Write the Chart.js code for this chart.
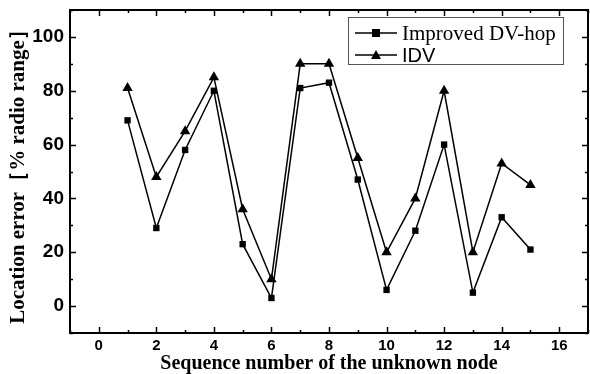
<!DOCTYPE html>
<html>
<head>
<meta charset="utf-8">
<script src="https://cdn.jsdelivr.net/npm/chart.js@4"></script>
<style>
  html, body { margin: 0; padding: 0; background: #fff; overflow: hidden; }
  canvas { display: block; }
</style>
</head>
<body>
<canvas id="chart" width="590" height="374"></canvas>
<script>
const nodes = [1, 2, 3, 4, 5, 6, 7, 8, 9, 10, 11, 12, 13, 14, 15];
const improvedDvHop = [69, 29, 58, 80, 23, 3, 81, 83, 47, 6, 28, 60, 5, 33, 21];
const idv = [81, 48, 65, 85, 36, 10, 90, 90, 55, 20, 40, 80, 20, 53, 45];
const seriesNames = ['Improved DV-hop', 'IDV'];
const xTicks = [0, 2, 4, 6, 8, 10, 12, 14, 16];
const yTicks = [0, 20, 40, 60, 80, 100];

// inward ticks on all four sides + frame
const frameTicks = {
    id: 'frameTicks',
    afterDraw(chart) {
        const { ctx, chartArea: a, scales: { x, y } } = chart;
        ctx.save();
        ctx.strokeStyle = '#000';
        ctx.lineWidth = 2;
        ctx.strokeRect(a.left, a.top, a.right - a.left, a.bottom - a.top);
        ctx.lineWidth = 1.5;
        ctx.beginPath();
        x.ticks.forEach(t => {
            const px = Math.round(x.getPixelForValue(t.value)) + 0.5;
            const len = xTicks.includes(t.value) ? 6 : 3;
            ctx.moveTo(px, a.bottom); ctx.lineTo(px, a.bottom - len);
            ctx.moveTo(px, a.top); ctx.lineTo(px, a.top + len);
        });
        y.ticks.forEach(t => {
            const py = Math.round(y.getPixelForValue(t.value)) + 0.5;
            const len = yTicks.includes(t.value) ? 6 : 3;
            ctx.moveTo(a.left, py); ctx.lineTo(a.left + len, py);
            ctx.moveTo(a.right, py); ctx.lineTo(a.right - len, py);
        });
        ctx.stroke();
        ctx.restore();
    }
};

// legend box inside plot, top right
const boxLegend = {
    id: 'boxLegend',
    afterDraw(chart) {
        const { ctx } = chart;
        const bx = 348, by = 17, bw = 215, bh = 47;
        ctx.save();
        ctx.strokeStyle = '#555';
        ctx.lineWidth = 1;
        ctx.strokeRect(bx + 0.5, by + 0.5, bw, bh);
        const rows = [33, 55];
        const fonts = ['21px "Liberation Serif", "Times New Roman", serif',
                       '20px "Liberation Sans", Arial, sans-serif'];
        chart.data.datasets.forEach((ds, i) => {
            const cy = rows[i];
            ctx.strokeStyle = '#000';
            ctx.lineWidth = 1.5;
            ctx.beginPath();
            ctx.moveTo(355, cy); ctx.lineTo(397, cy);
            ctx.stroke();
            ctx.fillStyle = '#000';
            if (ds.pointStyle === 'rect') {
                ctx.fillRect(372, cy - 4, 8, 8);
            } else {
                ctx.beginPath();
                ctx.moveTo(376, cy - 5); ctx.lineTo(381, cy + 4); ctx.lineTo(371, cy + 4);
                ctx.closePath(); ctx.fill();
            }
            ctx.font = fonts[i];
            ctx.textBaseline = 'middle';
            ctx.fillText(ds.label, 402, cy + 1);
        });
        ctx.restore();
    }
};

new Chart(document.getElementById('chart'), {
    type: 'line',
    data: {
        datasets: [
            {
                label: seriesNames[0],
                data: nodes.map((n, i) => ({ x: n, y: improvedDvHop[i] })),
                borderColor: '#000',
                backgroundColor: '#000',
                borderWidth: 1.5,
                pointStyle: 'rect',
                pointRadius: 4.5,
                pointBorderWidth: 0,
                tension: 0
            },
            {
                label: seriesNames[1],
                data: nodes.map((n, i) => ({ x: n, y: idv[i] })),
                borderColor: '#000',
                backgroundColor: '#000',
                borderWidth: 1.5,
                pointStyle: 'triangle',
                pointRadius: 6,
                pointBorderWidth: 0,
                tension: 0
            }
        ]
    },
    options: {
        responsive: false,
        animation: false,
        layout: { autoPadding: false, padding: { top: 10, right: 2, left: 0, bottom: 0 } },
        scales: {
            x: {
                type: 'linear',
                min: -1,
                max: 17,
                afterFit: s => { s.height = 41; s.paddingLeft = 0; s.paddingRight = 0; },
                grid: { display: false, drawTicks: false },
                border: { display: false },
                ticks: {
                    stepSize: 1,
                    autoSkip: false,
                    maxRotation: 0,
                    padding: 4,
                    color: '#000',
                    font: { family: '"Liberation Sans", Arial, sans-serif', size: 15, weight: 'bold' },
                    callback: v => (xTicks.includes(v) ? String(v) : '')
                },
                title: {
                    display: true,
                    text: 'Sequence number of the unknown node',
                    color: '#000',
                    padding: { top: 0, bottom: -2 },
                    font: { family: '"Liberation Serif", "Times New Roman", serif', size: 20, weight: 'bold' }
                }
            },
            y: {
                min: -10,
                max: 110,
                afterFit: s => { s.width = 70; s.paddingTop = 0; s.paddingBottom = 0; },
                grid: { display: false, drawTicks: false },
                border: { display: false },
                ticks: {
                    stepSize: 10,
                    autoSkip: false,
                    padding: 6,
                    color: '#000',
                    font: { family: '"Liberation Sans", Arial, sans-serif', size: 19, weight: 'bold' },
                    callback: v => (yTicks.includes(v) ? String(v) : '')
                },
                title: {
                    display: true,
                    text: 'Location error［% radio range］',
                    color: '#000',
                    padding: { top: 6, bottom: 0 },
                    font: { family: '"Liberation Serif", "Times New Roman", serif', size: 21, weight: 'bold' }
                }
            }
        },
        plugins: {
            legend: { display: false },
            tooltip: { enabled: false }
        }
    },
    plugins: [frameTicks, boxLegend]
});
</script>
</body>
</html>
